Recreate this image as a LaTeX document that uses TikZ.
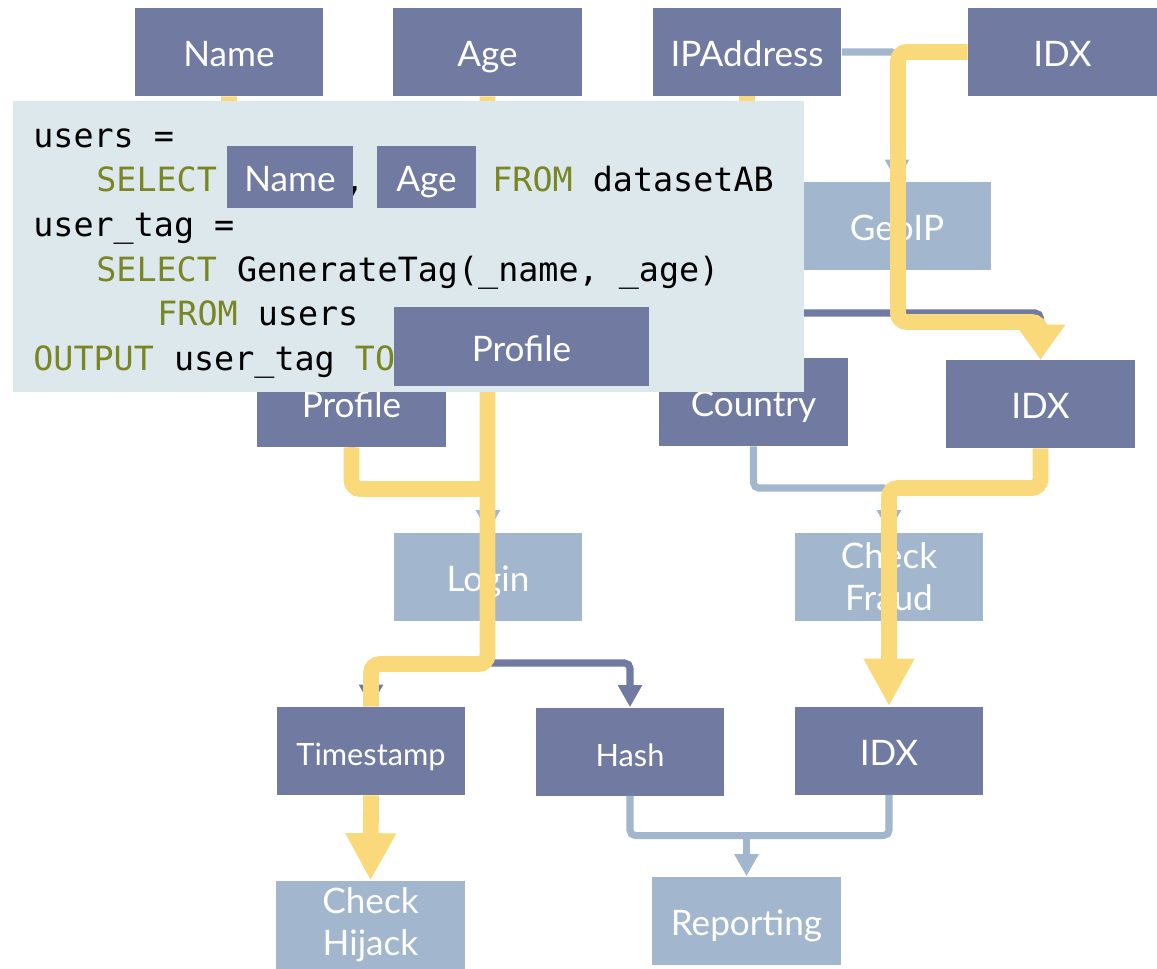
\documentclass[tikz,border=0pt]{standalone}
\usepackage{fontspec}
\setmainfont{Lato}
\setmonofont{DejaVu Sans Mono}
\usetikzlibrary{arrows.meta}
\definecolor{slate}{HTML}{717AA0}
\definecolor{mist}{HTML}{A2B7CD}
\definecolor{marker}{HTML}{FAD97A}
\definecolor{codebg}{HTML}{DDE8EC}
\definecolor{keyword}{HTML}{7A8523}
\tikzset{
  box/.style={text=white, inner sep=0pt, minimum width=3.78cm, minimum height=1.76cm,
    align=center, font=\fontsize{20}{24}\selectfont},
  darkbox/.style={box, fill=slate, text height=19pt, text depth=2pt},
  lightbox/.style={box, fill=mist, text height=19pt, text depth=2pt},
  lighttwo/.style={box, fill=mist},
  smalltext/.style={font=\fontsize{17.5}{21}\selectfont},
  thinpath/.style={line width=4pt, rounded corners=3pt},
  darkflow/.style={thinpath, draw=slate, -{Triangle[width=0.46cm,length=0.44cm]}},
  paleflow/.style={thinpath, draw=mist, -{Triangle[width=0.46cm,length=0.44cm]}},
  hilite/.style={draw=marker, line width=9pt, rounded corners=5pt},
  bigtip/.style={-{Triangle[width=0.95cm,length=0.95cm]}},
  code/.style={anchor=base west, inner sep=0pt, font=\ttfamily\fontsize{19}{25}\selectfont},
  kw/.style={code, text=keyword}
}
\begin{document}
\begin{tikzpicture}[x=0.02cm, y=-0.02cm]
\useasboundingbox (0,0) rectangle (1157,968);

\node[darkbox] (name)   at (229,52)     {Name};
\node[darkbox] (age)    at (487.5,52)   {Age};
\node[darkbox] (ipaddr) at (747,52)     {IPAddress};
\node[darkbox] (idxA)   at (1062.5,52)  {IDX};
\node[lightbox] (geoip) at (897,226)    {GeoIP};
\node[darkbox] (profile) at (351.5,403) {Profile};
\node[darkbox] (country) at (753.5,402) {Country};
\node[darkbox] (idxB)   at (1040.5,404) {IDX};
\node[lightbox] (login) at (488,576.5)  {Login};
\node[lighttwo] (fraud) at (889,576.5)  {Check\\Fraud};
\node[darkbox, smalltext] (timestamp) at (371,751) {Timestamp};
\node[darkbox, smalltext] (hash) at (630,751.5) {Hash};
\node[darkbox] (idxC)   at (889,750.5)  {IDX};
\node[lighttwo] (hijack) at (370.5,925) {Check\\Hijack};
\node[lightbox] (reporting) at (746.5,920.5) {Reporting};

\coordinate (geosplit) at (897,313);
\coordinate (loginsplit) at (488,663);
\coordinate (merge) at (746.5,835.5);

\draw[paleflow] (ipaddr.east) -| (geoip.north);
\draw[darkflow] (geoip.south) -- (geosplit) -| (country.north);
\draw[darkflow] (geosplit) -| (idxB.north);
\draw[paleflow] (profile.south) -- (351.5,489) -| (login.north);
\draw[paleflow] (country.south) -- (753.5,488) -| (fraud.north);
\draw[darkflow] (login.south) -- (loginsplit) -| (timestamp.north);
\draw[darkflow] (loginsplit) -| (hash.north);
\draw[thinpath, draw=mist] (hash.south) |- (merge) -| (idxC.south);
\draw[paleflow] (merge) -- (reporting.north);

\draw[hilite] (name.south) -- (229,330) -| (profile.north);
\draw[hilite] (ipaddr.south) -- (ipaddr.south |- country.north);
\draw[hilite] (age.south) -- (487.5,664) -| (timestamp.north);
\draw[hilite] (profile.south) -- (351.5,489) -- (487.5,489);
\draw[hilite, -{Triangle[width=0.95cm,length=0.7cm]}] (idxA.west) -- (898,52) -- (898,322) -| (idxB.north);
\draw[hilite, bigtip] (idxB.south) -- (1040.5,488) -| (idxC.north);
\draw[hilite, bigtip] (timestamp.south) -- (hijack.north);

\node[fill=codebg, inner sep=0pt, minimum width=15.82cm, minimum height=5.82cm] (panel) at (408.5,246.5) {};
\node[code] (q1) at (33,147)    {users =};
\node[kw]   (q2) at (96,191.5)  {SELECT};
\node[code] (q2b) at (344,191.5) {,};
\node[kw]   (q2c) at (492,191.5) {FROM \textcolor{black}{datasetAB}};
\node[code] (q3) at (33,236)    {user\_tag =};
\node[code] (q4) at (96,281)    {\textcolor{keyword}{SELECT} GenerateTag(\_name, \_age)};
\node[code] (q5) at (157,325)   {\textcolor{keyword}{FROM} users};
\node[code] (q6) at (33,370)    {\textcolor{keyword}{OUTPUT} user\_tag \textcolor{keyword}{TO}};

\node[darkbox, minimum width=2.52cm, minimum height=1.24cm] (nametag) at (290,177) {Name};
\node[darkbox, minimum width=1.98cm, minimum height=1.24cm] (agetag) at (426.5,177) {Age};
\node[darkbox, minimum width=5.1cm, minimum height=1.58cm] (profiletag) at (521.5,346.5) {Profile};
\end{tikzpicture}
\end{document}
